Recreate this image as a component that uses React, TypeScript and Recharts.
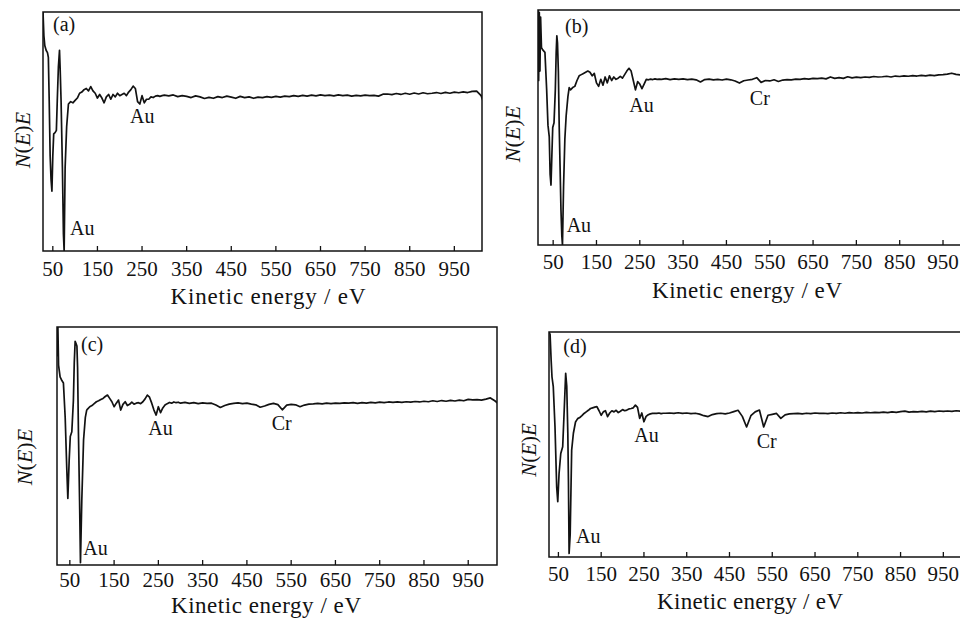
import React from 'react';
import { LineChart, Line, XAxis, YAxis, ReferenceArea, ReferenceDot } from 'recharts';

// ---------- data ----------
const tickValues = [50, 150, 250, 350, 450, 550, 650, 750, 850, 950];

const midEnergy = [
  90, 95, 100, 105, 110, 115, 120, 125, 130, 135,
  140, 145, 150, 155, 160, 165, 170, 175, 180, 185,
  190, 195, 200, 205, 210, 215, 220, 225, 230, 235,
  240, 245, 250, 255, 260, 265, 270, 275, 280, 285,
  290, 295,
];

const highEnergy = [
  300, 310, 320, 330, 340, 350, 360, 370, 380, 390,
  400, 410, 420, 430, 440, 450, 460, 470, 480, 490,
  500, 510, 520, 530, 540, 550, 560, 570, 580, 590,
  600, 610, 620, 630, 640, 650, 660, 670, 680, 690,
  700, 710, 720, 730, 740, 750, 760, 770, 780, 790,
  800, 810, 820, 830, 840, 850, 860, 870, 880, 890,
  900, 910, 920, 930, 940, 950, 960, 970, 980, 990,
  1000, 1010, 1020,
];

// panel (a)
const lowEnergyA = [28, 30, 32, 35, 38, 40, 42, 44, 46, 48, 50, 52, 55, 58, 60, 62.5, 65, 66.5, 68.5, 71.5, 73.8, 75.4, 77.6, 81, 85];
const lowValueA = [100, 90, 86, 84, 83, 81, 62, 40, 30, 25, 40, 49, 49.5, 50.5, 63, 77, 84, 76, 63, 35, 7, 0, 35, 52, 61.5];
const midValueA = [
  62.5, 62, 63, 64, 66, 66.5, 67.5, 68, 67, 68.8,
  67, 66, 64, 65.5, 64, 62, 64.5, 65.5, 63.5, 65.5,
  64.5, 66, 65, 65.5, 66, 65, 66.5, 67.5, 69, 68,
  62.5, 61.5, 65, 62, 63.5, 63.5, 64.5, 64.2, 64.8, 65,
  64.7, 65,
];
const highValueA = [
  65.2, 64.9, 65.3, 64.6, 65, 64.7, 64.2, 64.9, 64.5, 63.8,
  64.3, 63.9, 64.6, 64.2, 64.8, 64.4, 63.9, 64.7, 64.2, 64.5,
  63.9, 64.4, 64.2, 64.6, 64.3, 64.7, 64.4, 64.8, 64.6, 65,
  64.7, 65.1, 64.8, 65.2, 64.9, 65.3, 65, 65.2, 64.9, 65.3,
  65, 65.2, 64.8, 65.1, 64.9, 65.2, 65, 65.1, 64.8, 65.6,
  65.7, 65.4, 65.9, 65.5, 66, 65.6, 66.1, 65.7, 66.2, 65.8,
  66, 66.3, 65.9, 66.4, 66, 66.5, 66.2, 66.6, 66.3, 66.8,
  66.9, 65, 60,
];

// panel (b)
const lowEnergyB = [15, 16.5, 18, 19.5, 21, 23, 26, 31, 35, 38, 41, 43, 45, 47, 49, 52, 55, 57, 58.5, 60, 62, 64, 66, 68, 70, 71.5, 74, 77, 80, 84, 87];
const lowValueB = [100, 70, 99, 74, 97, 84, 83, 82, 66, 51, 46, 30, 25.5, 38, 50, 52, 66, 82, 89, 86, 74, 50, 33, 15, 4, 0, 25, 45, 55, 63, 67];
const midValueB = [
  66, 67, 67.5, 70, 72, 72.5, 73, 73.5, 74, 73.5,
  72, 73, 69, 67.5, 70.5, 68, 71.5, 69, 72, 70,
  71.5, 70.5, 71, 71.8, 71, 72.5, 74, 75.2, 74, 70,
  66, 69.5, 68.5, 66.5, 68.5, 70.5, 70.3, 70.6, 70.4, 70.7,
  70.5, 70.6,
];
const highValueB = [
  70.5, 70.8, 70.4, 70.7, 70.5, 70.7, 70.4, 70.6, 70.3, 69.4,
  70.4, 70.6, 70.3, 70.5, 70.2, 70.6, 70.3, 69.8, 68.9, 69.9,
  70.2, 70.5, 71.2, 69.2, 70, 69.8, 70.3, 69.6, 70.2, 70.4,
  70.3, 70.6, 70.5, 70.8, 70.6, 70.9, 70.8, 71, 70.7, 71.5,
  70.9, 71.2, 70.9, 71.6, 71.1, 71.4, 71.2, 71.5, 71.3, 71.7,
  71.5, 71.6, 71.8, 71.5, 71.9, 71.7, 72, 71.8, 72.1, 71.9,
  72.2, 72, 72.3, 72.1, 72.4, 72.5, 72.7, 73.1, 72.6, 72.4,
  72.3, 72.2, 72,
];

// panel (c)
const lowEnergyC = [21, 22, 23, 24.5, 28, 32, 35.5, 39.5, 43, 45.5, 48.5, 51, 54.5, 58, 60, 62, 64, 66, 67.5, 69.5, 72, 74, 77, 81, 85, 88];
const lowValueC = [100, 88, 100, 84, 79, 77.5, 76.5, 62, 41, 28, 44, 54, 56, 69, 85, 94, 93, 92, 83, 55, 27, 1, 27, 52.5, 62, 65];
const midValueC = [
  65.5, 66.5, 67, 67.8, 68.6, 69, 69.5, 70, 70.8, 71.4,
  70, 68.6, 66.5, 68, 69.3, 65.1, 67.5, 68.6, 67, 67.5,
  68.4, 67.6, 68, 68.2, 67.8, 68.6, 69.8, 71.4, 70.5, 68,
  65.1, 63, 66.5, 64, 66, 67.2, 67.8, 68.3, 68, 68.5,
  68.2, 68.4,
];
const highValueC = [
  68, 68.3, 67.9, 68.2, 67.8, 68.1, 67.9, 68, 67.2, 66.2,
  67, 67.6, 67.9, 68.1, 67.8, 68, 67.6, 67.3, 66.3, 66.8,
  67.5, 67.9, 67.4, 65.2, 67.2, 67.5, 67.3, 66.5, 67.2, 67.6,
  67.7, 67.9, 67.7, 68, 67.8, 68, 67.9, 68.1, 68, 68.2,
  67.9, 68.2, 68, 68.3, 68.1, 68.4, 68.2, 68.5, 68.3, 68.5,
  68.3, 68.6, 68.4, 68.7, 68.5, 68.8, 68.6, 69, 68.7, 69.1,
  68.8, 69.2, 68.9, 69.3, 69, 69.6, 69.4, 69.5, 69.3, 69.7,
  70.2, 69, 67.5,
];

// panel (d)
const lowEnergyD = [28, 30.5, 33, 35, 38, 42, 46, 48.5, 51.5, 55.5, 60, 63.5, 67, 69.5, 72, 73.5, 75, 77.5, 81, 85];
const lowValueD = [100, 99, 87.5, 80, 75.7, 58, 31, 24.6, 37, 46, 49, 65, 81.6, 76, 55, 33, 1.6, 10, 47.5, 55];
const midValueD = [
  60, 61.5, 62, 62.8, 63.8, 64.5, 65.2, 66, 66.3, 66.6,
  66.8, 65, 63, 64.5, 65, 62.4, 64, 65, 64.5, 65.2,
  64.2, 64.8, 65.5, 65, 65.3, 65.8, 66, 66.3, 67.5, 66.5,
  61.6, 64, 60.1, 62.5, 63.2, 63.6, 63.8, 63.9, 63.8, 64,
  63.7, 63.9,
];
const highValueD = [
  63.9, 64, 63.8, 64.1, 63.8, 64, 63.7, 63.9, 63.5, 62.8,
  62.4, 63.3, 63.7, 63.9, 63.6, 64, 64.6, 65.2, 62.5, 57.8,
  62.8, 64.5, 65.3, 57.8, 63, 63.4, 63.8, 61.6, 63.2, 63.6,
  63.7, 63.8, 63.6, 63.9, 63.7, 64, 63.8, 63.9, 63.7, 64,
  63.8, 64.1, 63.9, 64.2, 64, 64.2, 64, 64.3, 64.1, 64.3,
  64.2, 64.4, 64.2, 64.5, 64.3, 64.6, 64.8, 64.4, 64.6, 64.5,
  64.7, 64.5, 64.8, 64.6, 64.9, 64.7, 64.9, 64.7, 65, 64.8,
  65, 64.9, 65,
];

// annotations (text, energy and intensity at the text's baseline-left corner)
const notesA = [
  { text: '(a)', e: 50.5, v: 92 },
  { text: 'Au', e: 223, v: 53.6 },
  { text: 'Au', e: 88.5, v: 6.7 },
];
const notesB = [
  { text: '(b)', e: 77.3, v: 90.2 },
  { text: 'Au', e: 225.7, v: 56.7 },
  { text: 'Cr', e: 504, v: 59.6 },
  { text: 'Au', e: 81.2, v: 5.7 },
];
const notesC = [
  { text: '(c)', e: 75.2, v: 89.9 },
  { text: 'Au', e: 227.2, v: 54.6 },
  { text: 'Cr', e: 506, v: 56.7 },
  { text: 'Au', e: 80.4, v: 4.2 },
];
const notesD = [
  { text: '(d)', e: 61.5, v: 90.5 },
  { text: 'Au', e: 227.5, v: 51.2 },
  { text: 'Cr', e: 513.8, v: 48.3 },
  { text: 'Au', e: 91.2, v: 6.1 },
];

const xTitle = 'Kinetic energy / eV';

// ---------- helpers ----------
const FONT = '"Liberation Serif", "Times New Roman", Times, serif';
const INK = '#121212';

function buildData(lowE: number[], lowV: number[], midV: number[], highV: number[]) {
  const es = [...lowE, ...midEnergy, ...highEnergy];
  const vs = [...lowV, ...midV, ...highV];
  return es.map((e, i) => ({ e, v: vs[i] }));
}

const makeTick = (offset: number) => (props: any) => {
  const { x, y, payload } = props;
  return (
    <g>
      <line x1={x} y1={y} x2={x} y2={y - 5} stroke={INK} strokeWidth={1.3} />
      <text x={x} y={y + offset} textAnchor="middle" fontSize={21} fontFamily={FONT} fill={INK}>
        {payload.value}
      </text>
    </g>
  );
};

type Panel = {
  key: string;
  left: number; top: number; width: number; height: number;
  plotLeft: number; plotTop: number; plotRight: number; plotBottom: number;
  domain: [number, number];
  data: { e: number; v: number }[];
  notes: { text: string; e: number; v: number }[];
  tickOffset: number;
  titleX: number; titleY: number; titleW: number;
  yLabX: number; yLabY: number; yLabSize: number;
};

const panels: Panel[] = [
  {
    key: 'a', left: 0, top: 0, width: 490, height: 309,
    plotLeft: 43, plotTop: 12, plotRight: 482, plotBottom: 251,
    domain: [28, 1012],
    data: buildData(lowEnergyA, lowValueA, midValueA, highValueA),
    notes: notesA, tickOffset: 25, titleX: 268, titleY: 304, titleW: 195,
    yLabX: 21.5, yLabY: 140, yLabSize: 22,
  },
  {
    key: 'b', left: 490, top: 0, width: 490, height: 309,
    plotLeft: 538, plotTop: 10, plotRight: 969, plotBottom: 245,
    domain: [15, 1010],
    data: buildData(lowEnergyB, lowValueB, midValueB, highValueB),
    notes: notesB, tickOffset: 24, titleX: 747, titleY: 298, titleW: 190,
    yLabX: 512, yLabY: 134, yLabSize: 22,
  },
  {
    key: 'c', left: 0, top: 309, width: 505, height: 310,
    plotLeft: 57, plotTop: 327, plotRight: 497, plotBottom: 565,
    domain: [21, 1015],
    data: buildData(lowEnergyC, lowValueC, midValueC, highValueC),
    notes: notesC, tickOffset: 22, titleX: 266, titleY: 613, titleW: 190,
    yLabX: 24, yLabY: 457, yLabSize: 22,
  },
  {
    key: 'd', left: 490, top: 309, width: 490, height: 310,
    plotLeft: 549, plotTop: 332, plotRight: 969, plotBottom: 557,
    domain: [28, 1010],
    data: buildData(lowEnergyD, lowValueD, midValueD, highValueD),
    notes: notesD, tickOffset: 24, titleX: 750, titleY: 609, titleW: 186,
    yLabX: 529, yLabY: 450, yLabSize: 21,
  },
];

function PanelChart({ p }: { p: Panel }) {
  const yAxisWidth = p.plotLeft - p.left;
  const xAxisHeight = p.top + p.height - p.plotBottom;
  const margin = { top: p.plotTop - p.top, right: p.left + p.width - p.plotRight, bottom: 0, left: 0 };
  const tx = p.titleX - p.left;
  const ty = p.titleY - p.top;
  const lx = p.yLabX - p.left;
  const ly = p.yLabY - p.top;
  const TickComp = makeTick(p.tickOffset);
  return (
    <div style={{ position: 'absolute', left: p.left, top: p.top, width: p.width, height: p.height }}>
      <LineChart width={p.width} height={p.height} data={p.data} margin={margin}>
        <XAxis
          type="number"
          dataKey="e"
          domain={p.domain}
          ticks={tickValues}
          allowDataOverflow
          axisLine={false}
          tickLine={false}
          tickSize={0}
          tickMargin={0}
          height={xAxisHeight}
          interval={0}
          tick={<TickComp />}
          label={{
            content: () => (
              <text x={tx} y={ty} textAnchor="middle" fontSize={23} fontFamily={FONT} fill={INK}
                textLength={p.titleW} lengthAdjust="spacing">
                {xTitle}
              </text>
            ),
          }}
        />
        <YAxis
          type="number"
          domain={[0, 100]}
          allowDataOverflow
          width={yAxisWidth}
          tick={false}
          tickLine={false}
          axisLine={false}
          label={{
            content: () => (
              <text x={lx} y={ly} textAnchor="middle" dominantBaseline="central"
                transform={`rotate(-90, ${lx}, ${ly})`} fontSize={p.yLabSize} fontFamily={FONT} fill={INK}>
                <tspan fontStyle="italic">N</tspan>(<tspan fontStyle="italic">E</tspan>)<tspan fontStyle="italic">E</tspan>
              </text>
            ),
          }}
        />
        <ReferenceArea x1={p.domain[0]} x2={p.domain[1]} y1={0} y2={100} fill="none" fillOpacity={0}
          stroke={INK} strokeWidth={1.5} ifOverflow="visible" />
        <Line type="linear" dataKey="v" stroke={INK} strokeWidth={1.7} dot={false} activeDot={false}
          isAnimationActive={false} strokeLinejoin="round" />
        {p.notes.map((n, i) => (
          <ReferenceDot key={i} x={n.e} y={n.v} r={0} ifOverflow="visible"
            shape={(sp: any) => (
              <text x={sp.cx} y={sp.cy} fontSize={20} fontFamily={FONT} fill={INK}>{n.text}</text>
            )} />
        ))}
      </LineChart>
    </div>
  );
}

export default function App() {
  return (
    <div style={{ position: 'absolute', left: 0, top: 0, width: 960, height: 619, overflow: 'hidden', background: '#fff' }}>
      {panels.map((p) => <PanelChart key={p.key} p={p} />)}
    </div>
  );
}
